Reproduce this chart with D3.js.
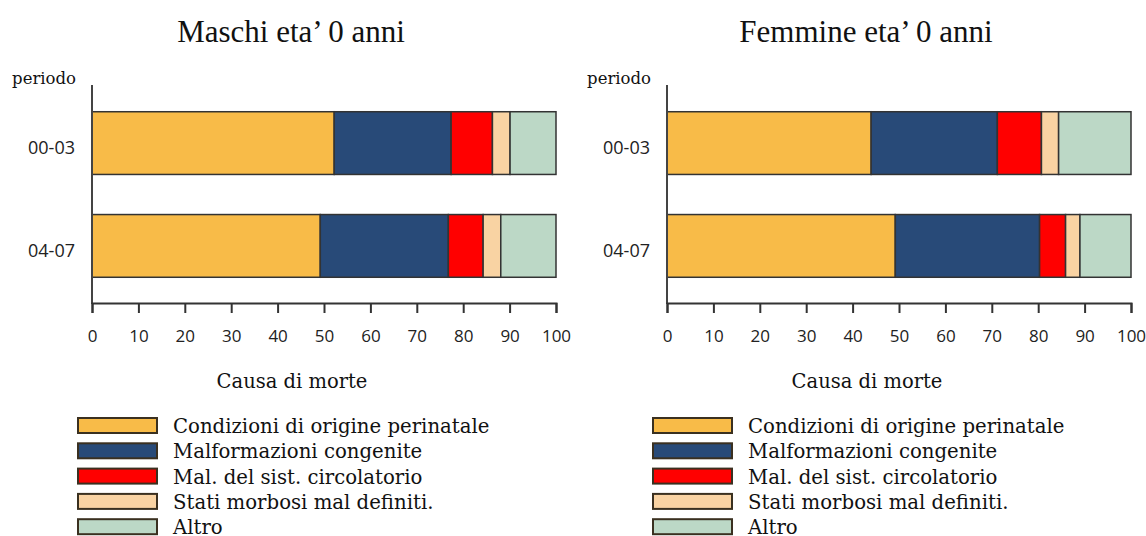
<!DOCTYPE html>
<html>
<head>
<meta charset="utf-8">
<title>Cause di morte eta' 0 anni</title>
<script src="https://cdn.jsdelivr.net/npm/d3@7/dist/d3.min.js"></script>
<style>
body { margin: 0; background: #fff; }
svg { display: block; }
.tick text { font-family: "Open Sans", sans-serif; font-size: 17px; fill: #222; }
</style>
</head>
<body>
<svg id="chart" width="1146" height="536"></svg>
<script>
// periodi e cause
var periods = ["00-03", "04-07"];
var causes = ["Condizioni di origine perinatale", "Malformazioni congenite",
  "Mal. del sist. circolatorio", "Stati morbosi mal definiti.", "Altro"];
var colors = ["#f8bb48", "#284a78", "#ff0000", "#f9d3a3", "#bcd8c6"];
var xTicks = [0, 10, 20, 30, 40, 50, 60, 70, 80, 90, 100];

// percentuali, una riga per periodo
var maschi = [
  [52.2, 25.2, 8.9, 3.8, 9.9],
  [49.2, 27.6, 7.5, 3.8, 11.9]
];
var femmine = [
  [44.0, 27.2, 9.5, 3.7, 15.6],
  [49.2, 31.1, 5.6, 3.1, 11.0]
];

var titles = ["Maschi eta\u2019 0 anni", "Femmine eta\u2019 0 anni"];
var panels = [maschi, femmine];

var svg = d3.select("#chart");
var plotW = 464, yTop = 85, yBottom = 304;
var lefts = [92, 667];

panels.forEach(function(vals, p) {
  var x0 = lefts[p];
  var g = svg.append("g").attr("transform", "translate(" + x0 + ",0)");

  var x = d3.scaleLinear().domain([0, 100]).range([0, plotW]);
  var y = d3.scaleBand().domain(periods).range([yTop, yBottom])
    .paddingInner(0.39).paddingOuter(0.26);

  // title
  g.append("text")
    .attr("x", plotW / 2 - 33).attr("y", 42)
    .attr("text-anchor", "middle")
    .style("font-family", "'Liberation Serif', serif")
    .style("font-size", "31px")
    .attr("fill", "#111")
    .text(titles[p]);

  g.append("text")
    .attr("x", -16).attr("y", 84)
    .attr("text-anchor", "end")
    .style("font-family", "'DejaVu Serif', serif")
    .style("font-size", "16.5px")
    .attr("fill", "#111")
    .text("periodo");

  // stacked bars
  var rows = periods.map(function(per, i) {
    var acc = 0;
    return vals[i].map(function(v, k) {
      var seg = {period: per, k: k, x0: acc, x1: acc + v};
      acc += v;
      return seg;
    });
  });

  g.selectAll("g.row").data(rows).enter().append("g").attr("class", "row")
    .selectAll("rect").data(function(d) { return d; }).enter().append("rect")
    .attr("x", function(d) { return x(d.x0); })
    .attr("y", function(d) { return y(d.period); })
    .attr("width", function(d) { return x(d.x1) - x(d.x0); })
    .attr("height", y.bandwidth())
    .attr("fill", function(d) { return colors[d.k]; })
    .attr("stroke", "#333")
    .attr("stroke-width", 1.5);

  // category labels
  g.selectAll("text.cat").data(periods).enter().append("text")
    .attr("class", "cat")
    .attr("x", -17)
    .attr("y", function(d) { return y(d) + y.bandwidth() / 2 + 11; })
    .attr("text-anchor", "end")
    .style("font-family", "'Open Sans', sans-serif")
    .style("font-size", "18px")
    .attr("fill", "#222")
    .text(function(d) { return d; });

  // y axis line
  g.append("line")
    .attr("x1", 0).attr("x2", 0).attr("y1", yTop).attr("y2", yBottom)
    .attr("stroke", "#444").attr("stroke-width", 2);

  // x axis
  var xa = g.append("g")
    .attr("transform", "translate(0," + (yBottom - 1) + ")")
    .call(d3.axisBottom(x).tickValues(xTicks).tickSize(10).tickSizeOuter(10).tickPadding(17));
  xa.select(".domain").attr("stroke", "#333").attr("stroke-width", 2);
  xa.selectAll(".tick line").attr("stroke", "#333").attr("stroke-width", 2);

  g.append("text")
    .attr("x", plotW / 2 - 32).attr("y", 388)
    .attr("text-anchor", "middle")
    .style("font-family", "'DejaVu Serif', serif")
    .style("font-size", "19.5px")
    .attr("fill", "#111")
    .text("Causa di morte");

  // legend
  var lg = g.selectAll("g.leg").data(causes).enter().append("g")
    .attr("class", "leg")
    .attr("transform", function(d, i) { return "translate(-14," + (418 + i * 25.3) + ")"; });
  lg.append("rect")
    .attr("width", 79).attr("height", 15)
    .attr("fill", function(d, i) { return colors[i]; })
    .attr("stroke", "#3a3020").attr("stroke-width", 2);
  lg.append("text")
    .attr("x", 95).attr("y", 15)
    .style("font-family", "'DejaVu Serif', serif")
    .style("font-size", "19.7px")
    .attr("fill", "#111")
    .text(function(d) { return d; });
});
</script>
</body>
</html>
